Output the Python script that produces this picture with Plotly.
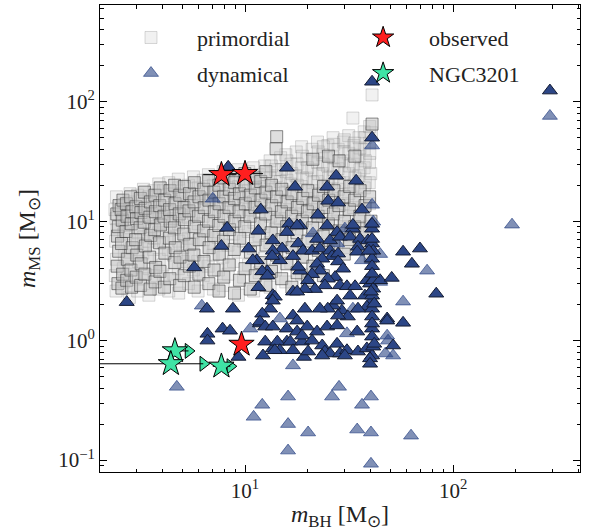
import plotly.graph_objects as go

# ---------------- data ----------------
# primordial binaries: (m_BH, m_MS) pairs, darker / more opaque points
prim_solid = [
    (2.45, 3.0), (2.43, 4.2), (2.47, 5.6), (2.44, 7.5), (2.46, 9.0), (2.42, 11.5), (2.48, 13.5),
    (2.56, 2.75), (2.58, 3.6), (2.55, 6.5), (2.57, 10.2), (2.54, 12.5), (2.59, 15.0),
    (2.70, 3.2), (2.72, 4.8), (2.68, 8.2), (2.71, 11.0), (2.69, 14.0),
    (2.85, 2.8), (2.83, 3.9), (2.87, 6.0), (2.84, 9.5), (2.86, 12.0), (2.82, 16.0),
    (3.00, 3.4), (3.02, 5.2), (2.98, 7.0), (3.01, 10.5), (2.99, 13.2),
    (3.15, 2.9), (3.17, 4.4), (3.13, 8.8), (3.16, 11.8), (3.14, 15.5),
    (3.30, 3.6), (3.32, 6.2), (3.28, 9.8), (3.31, 12.8), (3.29, 17.5),
    (3.50, 2.7), (3.48, 5.0), (3.52, 7.6), (3.49, 10.8), (3.51, 14.5),
    (3.70, 3.1), (3.72, 4.1), (3.68, 8.5), (3.71, 12.0), (3.69, 16.5),
    (3.90, 3.8), (3.88, 6.6), (3.92, 9.3), (3.89, 13.5), (3.91, 19.0),
    (4.10, 2.8), (4.12, 5.4), (4.08, 11.0), (4.11, 15.0),
    (4.35, 3.3), (4.33, 7.2), (4.37, 10.0), (4.34, 12.5), (4.36, 18.0),
    (4.60, 4.5), (4.62, 6.0), (4.58, 8.8), (4.61, 14.0), (4.59, 20.0),
    (4.85, 2.9), (4.87, 5.0), (4.83, 11.5), (4.86, 16.5),
    (5.10, 3.5), (5.08, 7.8), (5.12, 10.3), (5.09, 13.0), (5.11, 19.5),
    (5.40, 4.2), (5.42, 6.4), (5.38, 12.2), (5.41, 17.0),
    (5.70, 2.8), (5.68, 5.2), (5.72, 9.0), (5.69, 14.5), (5.71, 21.0),
    (6.00, 3.6), (6.03, 7.0), (5.97, 11.0), (6.01, 16.0),
    (6.35, 4.6), (6.33, 8.3), (6.37, 13.0), (6.34, 18.5),
    (6.70, 3.0), (6.72, 6.0), (6.68, 10.0), (6.71, 15.0), (6.69, 22.0),
    (7.10, 3.9), (7.08, 7.6), (7.12, 12.0), (7.09, 17.5),
    (7.50, 2.6), (7.52, 5.3), (7.48, 9.2), (7.51, 14.0), (7.49, 20.0),
    (7.90, 3.4), (7.88, 6.8), (7.92, 11.0), (7.89, 16.0), (7.91, 23.0),
    (8.40, 4.3), (8.42, 8.5), (8.38, 13.0), (8.41, 18.5),
    (8.90, 2.5), (8.88, 5.8), (8.92, 10.0), (8.89, 15.5), (8.91, 21.0),
    (9.40, 3.2), (9.43, 7.2), (9.37, 12.0), (9.41, 17.0),
    (10.0, 4.0), (9.97, 9.0), (10.03, 14.0), (10.0, 20.0), (9.98, 25.0),
    (10.6, 2.7), (10.63, 5.5), (10.57, 11.0), (10.61, 16.5),
    (11.2, 3.5), (11.23, 7.0), (11.17, 13.0), (11.21, 19.0), (11.19, 23.0),
    (11.9, 4.5), (11.87, 9.5), (11.93, 15.0), (11.9, 21.5),
    (12.6, 2.9), (12.63, 6.3), (12.57, 11.5), (12.61, 17.5), (12.59, 26.0),
    (13.4, 3.8), (13.37, 8.0), (13.43, 13.5), (13.41, 20.0),
    (14.2, 5.2), (14.23, 10.0), (14.17, 16.0), (14.1, 40.4), (14.2, 51.0),
    (15.0, 3.3), (15.04, 7.0), (14.96, 12.0), (15.02, 18.5),
    (15.9, 4.4), (15.86, 9.0), (15.94, 14.5),
    (16.8, 2.8), (16.84, 6.0), (16.76, 11.0), (16.81, 17.0),
    (17.8, 3.7), (17.75, 8.0), (17.85, 13.0),
    (18.9, 5.0), (18.85, 10.0), (18.95, 15.5),
    (20.0, 3.2), (20.05, 6.8), (19.95, 12.0), (20.02, 18.0),
    (21.2, 4.2), (21.15, 8.8), (21.25, 14.0), (21.18, 33.0),
    (22.5, 5.7), (22.45, 11.0), (22.55, 16.5),
    (23.8, 3.5), (23.75, 7.5), (23.85, 13.0), (23.82, 19.5),
    (25.2, 5.5), (25.15, 9.5), (25.25, 15.0), (25.18, 35.0),
    (26.7, 6.2), (26.65, 11.5), (26.75, 18.0),
    (28.3, 8.3), (28.25, 13.5), (28.32, 32.0),
    (30.0, 5.3), (30.05, 10.0), (29.95, 16.0),
    (31.8, 7.0), (31.75, 12.5), (31.85, 19.5),
    (33.7, 9.0), (33.65, 15.0), (33.72, 35.0),
    (35.7, 6.0), (35.65, 11.0), (35.75, 18.0),
    (37.8, 8.0), (37.75, 13.5),
    (40.0, 5.0), (40.3, 10.0), (39.7, 16.0), (40.8, 65.0),
]

# primordial binaries: faint / more transparent points
prim_faint = [
    (2.40, 2.6), (2.38, 3.5), (2.41, 4.8), (2.39, 6.8), (2.42, 8.5), (2.40, 10.5), (2.37, 12.5), (2.41, 16.0),
    (2.62, 3.1), (2.60, 4.0), (2.63, 5.2), (2.61, 7.8), (2.64, 9.2), (2.60, 11.5), (2.62, 13.8),
    (2.78, 2.3), (2.80, 3.6), (2.77, 5.5), (2.79, 7.0), (2.81, 10.5), (2.78, 14.5), (2.80, 17.0),
    (3.05, 2.6), (3.07, 4.6), (3.04, 6.5), (3.06, 8.0), (3.08, 12.0), (3.05, 16.5),
    (3.25, 3.3), (3.23, 5.4), (3.26, 7.4), (3.24, 11.0), (3.27, 14.0), (3.25, 18.5),
    (3.45, 2.4), (3.47, 4.0), (3.44, 6.8), (3.46, 9.0), (3.43, 13.0), (3.45, 16.0),
    (3.65, 3.5), (3.63, 5.8), (3.66, 7.2), (3.64, 10.5), (3.67, 14.0), (3.65, 18.0),
    (3.85, 2.7), (3.87, 4.8), (3.84, 8.0), (3.86, 11.5), (3.83, 16.5), (3.85, 20.5),
    (4.05, 3.3), (4.03, 4.3), (4.06, 6.6), (4.04, 9.6), (4.07, 13.0), (4.05, 18.0),
    (4.30, 2.6), (4.28, 5.8), (4.31, 8.4), (4.29, 11.5), (4.32, 15.5), (4.30, 21.0),
    (4.55, 3.6), (4.53, 5.2), (4.56, 7.5), (4.54, 10.5), (4.57, 12.0), (4.55, 17.0),
    (4.80, 2.5), (4.78, 4.0), (4.81, 6.8), (4.79, 9.5), (4.82, 14.5), (4.80, 19.0), (4.78, 22.5),
    (5.05, 4.6), (5.03, 6.0), (5.06, 8.8), (5.04, 12.0), (5.07, 16.0),
    (5.35, 3.0), (5.33, 5.2), (5.36, 7.2), (5.34, 10.8), (5.37, 14.0), (5.35, 20.0),
    (5.65, 3.9), (5.63, 6.4), (5.66, 8.2), (5.64, 11.6), (5.67, 17.0), (5.65, 23.5),
    (5.95, 2.6), (5.93, 4.6), (5.96, 9.5), (5.94, 13.5), (5.97, 19.0),
    (6.30, 3.5), (6.28, 5.6), (6.31, 7.0), (6.29, 11.0), (6.32, 15.5), (6.30, 22.0),
    (6.65, 4.2), (6.63, 8.2), (6.66, 12.5), (6.64, 17.0), (6.67, 24.5),
    (7.05, 2.7), (7.03, 5.2), (7.06, 6.5), (7.04, 10.0), (7.07, 14.5), (7.05, 20.0),
    (7.45, 3.9), (7.43, 7.3), (7.46, 11.5), (7.44, 16.5), (7.47, 23.5),
    (7.85, 2.9), (7.83, 5.0), (7.86, 8.8), (7.84, 13.0), (7.87, 18.5), (7.85, 26.0),
    (8.30, 3.6), (8.28, 6.3), (8.31, 10.5), (8.29, 15.0), (8.32, 21.5),
    (8.80, 4.6), (8.78, 7.8), (8.81, 12.0), (8.79, 17.0), (8.82, 24.0),
    (9.30, 2.4), (9.28, 5.5), (9.31, 9.5), (9.29, 13.8), (9.32, 19.5), (9.30, 27.0),
    (9.85, 3.4), (9.83, 6.8), (9.86, 11.0), (9.84, 16.0), (9.87, 22.5),
    (10.4, 4.3), (10.38, 8.2), (10.42, 12.5), (10.39, 18.0), (10.41, 26.0),
    (11.0, 2.6), (10.97, 5.9), (11.03, 9.8), (10.98, 14.5), (11.02, 21.0), (11.0, 28.0),
    (11.7, 3.7), (11.67, 7.6), (11.73, 11.8), (11.68, 17.0), (11.72, 24.5),
    (12.4, 4.9), (12.37, 9.0), (12.43, 13.5), (12.38, 19.5), (12.42, 29.0),
    (13.2, 2.8), (13.17, 6.6), (13.23, 11.0), (13.18, 16.0), (13.22, 23.0), (13.2, 32.0),
    (14.0, 3.9), (13.96, 8.5), (14.04, 13.0), (13.97, 18.5), (14.03, 27.0),
    (14.8, 5.4), (14.76, 10.5), (14.84, 15.0), (14.77, 21.5), (14.83, 34.0),
    (15.7, 3.1), (15.66, 7.5), (15.74, 12.5), (15.67, 17.5), (15.73, 26.0), (15.7, 36.0),
    (16.6, 4.5), (16.56, 9.4), (16.64, 14.0), (16.57, 20.5), (16.63, 30.0),
    (17.6, 6.2), (17.55, 11.5), (17.65, 16.5), (17.57, 24.0), (17.63, 38.0),
    (18.7, 3.6), (18.65, 8.6), (18.75, 13.5), (18.67, 19.5), (18.73, 28.0), (18.7, 42.0),
    (19.8, 5.0), (19.75, 10.5), (19.85, 15.5), (19.77, 23.0), (19.83, 33.0),
    (21.0, 7.2), (20.95, 12.5), (21.05, 18.0), (20.97, 27.0), (21.03, 40.0),
    (22.3, 4.0), (22.25, 9.2), (22.35, 14.5), (22.27, 21.5), (22.33, 31.0), (22.3, 46.0),
    (23.6, 6.0), (23.55, 11.0), (23.65, 17.0), (23.57, 25.0), (23.63, 36.0),
    (25.0, 8.0), (24.95, 13.0), (25.05, 20.0), (24.97, 29.0), (25.03, 43.0),
    (26.5, 6.0), (26.45, 10.0), (26.55, 15.5), (26.47, 23.5), (26.53, 34.0), (26.5, 50.0),
    (28.0, 7.0), (27.95, 12.0), (28.05, 18.5), (27.97, 27.5), (28.03, 40.0),
    (29.7, 9.0), (29.65, 14.0), (29.75, 21.0), (29.67, 32.0), (29.73, 46.0),
    (31.5, 6.0), (31.45, 11.0), (31.55, 17.0), (31.47, 25.0), (31.53, 37.0), (31.5, 52.0),
    (33.3, 8.0), (33.25, 13.0), (33.35, 20.0), (33.27, 30.0), (33.33, 43.0),
    (35.3, 6.5), (35.25, 10.0), (35.35, 15.5), (35.27, 24.0), (35.33, 35.0), (35.3, 50.0),
    (37.4, 8.5), (37.35, 12.5), (37.45, 19.0), (37.37, 28.0), (37.43, 40.0), (37.4, 56.0),
    (39.6, 6.0), (39.55, 9.0), (39.65, 14.0), (39.57, 21.0), (39.63, 31.0), (39.6, 45.0), (39.7, 62.0), (40.8, 114.0),
    (14.21, 24.0), (13.39, 29.0), (14.98, 27.0), (15.91, 22.0), (15.88, 32.0),
    (16.79, 25.0), (17.82, 20.0), (17.78, 30.0), (18.92, 23.0), (18.88, 35.0),
    (19.98, 28.0), (21.22, 21.0), (22.52, 25.0), (22.48, 38.0), (23.78, 30.0),
    (23.8, 42.0), (25.22, 23.0), (26.72, 27.0), (26.68, 44.0), (28.35, 21.0),
    (30.02, 25.0), (29.98, 38.0), (30.0, 48.0), (31.82, 29.0), (33.0, 73.0),
    (33.75, 23.0), (33.68, 45.0), (35.72, 27.0), (35.68, 41.0), (37.85, 21.0),
    (37.82, 32.0), (37.78, 50.0), (40.2, 25.0), (39.8, 37.0), (40.5, 55.0),
]

# dynamically formed binaries: opaque points
dyn_solid = [
    (8.3, 28.5), (15.9, 28.0), (17.4, 19.4), (27.4, 24.0), (24.8, 19.4), (34.2, 21.8),
    (25.1, 14.8), (28.0, 14.3), (22.4, 11.3), (36.5, 12.5), (11.9, 12.5), (40.8, 147.0),
    (40.8, 50.0), (40.8, 8.65), (33.0, 8.65), (24.8, 9.2), (18.4, 9.2), (8.2, 8.8),
    (11.6, 8.3), (7.7, 6.2), (10.4, 5.9), (5.7, 4.1), (13.6, 6.9), (15.1, 5.9),
    (11.4, 4.7), (12.8, 3.8), (11.6, 2.8), (13.6, 2.4), (2.7, 2.1), (6.56, 1.85),
    (8.75, 1.85), (6.6, 1.14), (6.6, 1.0), (7.8, 1.26), (8.47, 1.21), (9.3, 0.73),
    (11.8, 1.39), (13.2, 1.85), (17.0, 2.57), (12.2, 0.75), (13.6, 0.86), (15.9, 0.98),
    (16.3, 9.5), (17.8, 9.2), (27.7, 8.1), (33.0, 9.3), (40.8, 9.5), (15.9, 8.1),
    (22.2, 7.1), (25.6, 6.9), (28.6, 7.4), (32.0, 7.4), (35.7, 7.1), (39.0, 6.9),
    (40.8, 6.5), (41.3, 5.65), (34.9, 6.1), (34.6, 5.55), (10.9, 4.7), (13.6, 5.65),
    (14.7, 4.7), (13.5, 5.1), (18.0, 6.5), (19.0, 5.65), (17.0, 5.1), (21.0, 5.65),
    (22.9, 5.9), (25.6, 5.65), (26.2, 5.1), (28.0, 5.35), (23.5, 4.85), (22.2, 4.4),
    (28.0, 4.6), (29.6, 4.0), (22.9, 3.85), (21.0, 3.6), (20.1, 3.2), (18.4, 3.85),
    (18.0, 4.15), (12.1, 3.8), (12.8, 3.5), (27.1, 3.4), (25.0, 3.3), (24.2, 2.9),
    (21.7, 2.7), (19.4, 2.7), (17.8, 2.57), (28.6, 2.9), (30.9, 2.85), (33.8, 2.85),
    (38.5, 3.2), (39.9, 3.0), (41.3, 3.2), (41.3, 2.72), (44.6, 3.2), (32.0, 2.38),
    (37.7, 2.38), (40.8, 2.16), (38.5, 1.92), (40.8, 1.85), (34.9, 1.85), (29.2, 1.78),
    (31.2, 1.59), (28.0, 1.62), (26.5, 1.96), (27.7, 2.16), (25.0, 1.85), (22.9, 1.85),
    (19.4, 1.85), (17.0, 1.62), (17.8, 1.47), (13.9, 2.33), (13.6, 2.16), (12.1, 1.68),
    (11.8, 1.44), (12.5, 1.31), (13.6, 1.31), (15.9, 1.26), (17.8, 1.19), (19.9, 1.31),
    (22.2, 1.19), (24.8, 1.31), (27.7, 1.34), (34.6, 1.19), (40.8, 1.26), (40.8, 1.08),
    (48.2, 1.53), (12.5, 0.98), (14.3, 0.98), (14.7, 0.83), (13.9, 0.83), (16.5, 0.98),
    (17.0, 0.83), (18.8, 0.98), (18.8, 1.1), (21.0, 1.0), (23.5, 0.91), (24.2, 0.81),
    (27.7, 0.94), (25.6, 0.78), (28.6, 0.78), (30.9, 0.83), (30.2, 0.75), (34.9, 0.81),
    (38.5, 0.86), (40.8, 0.75), (39.9, 0.71), (41.3, 0.89), (19.2, 0.73), (20.1, 0.81),
    (23.5, 0.75), (57.5, 5.55), (69.3, 5.9), (63.4, 4.4), (83.0, 2.47), (50.7, 3.35),
    (48.2, 1.47), (57.5, 1.41), (51.5, 0.91), (292.0, 124.0), (40.8, 7.1), (40.8, 4.85),
    (40.8, 4.2), (40.8, 3.63), (40.8, 2.38), (40.8, 1.59), (40.8, 1.39), (41.8, 0.94),
    (39.9, 0.64), (39.4, 5.65), (40.3, 2.57), (41.8, 2.04),
]

# dynamically formed binaries: faint points
dyn_faint = [
    (7.0, 15.4), (6.2, 1.96), (10.6, 1.26), (4.7, 0.41), (11.0, 0.23), (12.1, 0.29),
    (16.1, 0.34), (16.1, 0.20), (16.1, 0.12), (17.0, 0.62), (20.1, 0.17), (28.3, 0.41),
    (26.2, 0.34), (36.5, 0.29), (40.3, 0.34), (34.6, 0.18), (40.3, 0.17), (40.3, 0.093),
    (62.8, 0.16), (44.6, 5.3), (75.0, 3.85), (57.5, 2.12), (44.6, 3.1), (48.7, 1.0),
    (47.3, 0.78), (51.5, 0.75), (40.8, 43.0), (40.8, 13.7), (41.3, 9.9), (192.0, 9.35),
    (292.0, 76.0), (21.2, 7.9), (27.7, 6.5), (33.0, 1.85), (30.9, 1.15), (48.2, 1.1),
    (14.7, 1.53), (22.4, 4.2), (30.2, 8.65), (36.5, 4.7),
]

# observed BH binaries (red stars)
obs_mbh = [7.7, 10.0, 9.62]
obs_mms = [24.5, 25.0, 0.93]
obs_mbh_err = [1.4, 2.2, 0.2]
obs_mms_err = [2.5, 2.3, 0.06]

# NGC 3201 systems (green stars); lower limits on m_BH shown with arrows
ngc_mbh = [4.6, 4.4, 7.7]
ngc_mms = [0.82, 0.64, 0.61]
ngc_mbh_limit = [5.35, 6.3, 8.5]
ngc_mbh_errminus = [0.0, 4.0, 0.7]
ngc_mms_err = [0.04, 0.04, 0.04]

x_tick_vals = [10, 100]
x_tick_text = ["10<sup>1</sup>", "10<sup>2</sup>"]
y_tick_vals = [0.1, 1, 10, 100]
y_tick_text = ["10<sup>\u22121</sup>", "10<sup>0</sup>", "10<sup>1</sup>", "10<sup>2</sup>"]

# ---------------- figure ----------------
FONT = "Liberation Serif"
DYN = "44,70,134"

def xs(pts):
    return [p[0] for p in pts]

def ys(pts):
    return [p[1] for p in pts]

fig = go.Figure()

fig.add_trace(go.Scatter(
    x=xs(prim_faint), y=ys(prim_faint), mode="markers", name="primordial",
    legend="legend", legendgroup="p", legendrank=1,
    marker=dict(symbol="square", size=12, color="rgba(190,190,190,0.22)",
                line=dict(color="rgba(120,120,120,0.28)", width=1)),
    hoverinfo="skip"))
fig.add_trace(go.Scatter(
    x=xs(prim_solid), y=ys(prim_solid), mode="markers", showlegend=False,
    marker=dict(symbol="square", size=12, color="rgba(190,190,190,0.5)",
                line=dict(color="rgba(50,50,50,0.55)", width=1)),
    hoverinfo="skip"))
fig.add_trace(go.Scatter(
    x=xs(dyn_faint), y=ys(dyn_faint), mode="markers", name="dynamical",
    legend="legend", legendgroup="d", legendrank=2,
    marker=dict(symbol="triangle-up", size=13, color=f"rgba({DYN},0.6)",
                line=dict(color=f"rgba({DYN},0.7)", width=1)),
    hoverinfo="skip"))
fig.add_trace(go.Scatter(
    x=xs(dyn_solid), y=ys(dyn_solid), mode="markers", showlegend=False,
    marker=dict(symbol="triangle-up", size=13, color=f"rgba({DYN},1)",
                line=dict(color="#141c33", width=1)),
    hoverinfo="skip"))

# NGC3201 lower-limit arrows
fig.add_trace(go.Scatter(
    x=ngc_mbh_limit, y=ngc_mms, mode="markers", showlegend=False,
    marker=dict(symbol="triangle-right", size=13, color="#3fe3a5",
                line=dict(color="black", width=1)),
    hoverinfo="skip"))

# observed
fig.add_trace(go.Scatter(
    x=obs_mbh, y=obs_mms, mode="markers", name="observed",
    legend="legend2", legendgroup="o", legendrank=3,
    error_x=dict(type="data", array=obs_mbh_err, color="black", thickness=1, width=0),
    error_y=dict(type="data", array=obs_mms_err, color="black", thickness=1, width=0),
    marker=dict(symbol="star", size=19, color="#ff1f1f", line=dict(color="black", width=1)),
    hoverinfo="skip"))

# NGC3201 stars
fig.add_trace(go.Scatter(
    x=ngc_mbh, y=ngc_mms, mode="markers", name="NGC3201",
    legend="legend2", legendgroup="n", legendrank=4,
    error_x=dict(type="data", symmetric=False,
                 array=[l - m for l, m in zip(ngc_mbh_limit, ngc_mbh)],
                 arrayminus=ngc_mbh_errminus, color="black", thickness=1, width=0),
    error_y=dict(type="data", array=ngc_mms_err, color="black", thickness=1, width=0),
    marker=dict(symbol="star", size=19, color="#3fe3a5", line=dict(color="black", width=1)),
    hoverinfo="skip"))

minor_vals = [d * 10 ** e for e in range(-2, 4) for d in range(2, 10)]

axis_common = dict(
    type="log", showline=True, linecolor="black", linewidth=1, mirror="ticks",
    ticks="inside", ticklen=7, tickwidth=1, tickcolor="black", showgrid=False,
    automargin=False,
    tickfont=dict(family=FONT, size=21, color="#222"),
    minor=dict(ticks="inside", ticklen=3.5, tickwidth=0.8, tickcolor="black",
               tickmode="array", tickvals=minor_vals, showgrid=False),
)

fig.update_xaxes(range=[0.303, 2.61], tickmode="array", tickvals=x_tick_vals,
                 ticktext=x_tick_text,
                 title=dict(text="<i>m</i><sub>BH</sub> [M<sub>\u2299</sub>]",
                            font=dict(family=FONT, size=24, color="#222")),
                 **axis_common)
fig.update_yaxes(range=[-1.1, 2.81], tickmode="array", tickvals=y_tick_vals,
                 ticktext=y_tick_text,
                 title=dict(text="<i>m</i><sub>MS</sub> [M<sub>\u2299</sub>]",
                            font=dict(family=FONT, size=24, color="#222")),
                 **axis_common)

legend_common = dict(
    orientation="v", bgcolor="rgba(0,0,0,0)", borderwidth=0,
    font=dict(family=FONT, size=22, color="#222"),
    xanchor="left", yanchor="top", tracegroupgap=4, itemsizing="trace",
    itemwidth=82,
)

fig.update_layout(
    width=591, height=531,
    margin=dict(l=100, r=11, t=5, b=59),
    plot_bgcolor="white", paper_bgcolor="white",
    font=dict(family=FONT, size=20, color="#222"),
    showlegend=True,
    legend=dict(x=0.0104, y=0.975, **legend_common),
    legend2=dict(x=0.494, y=0.975, **legend_common),
)

fig.write_html("out.html", config={"displayModeBar": False},
               post_script="document.body.style.margin='0px';")
